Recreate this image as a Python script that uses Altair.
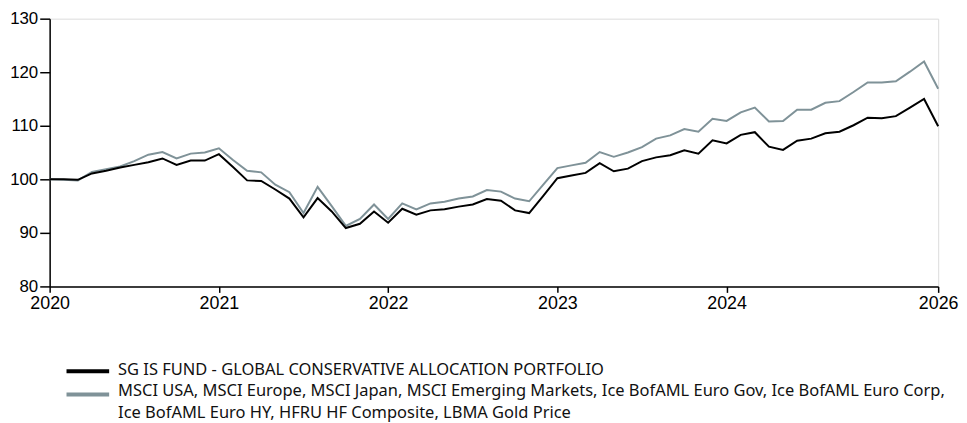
import altair as alt
import pandas as pd

fund = [100.0, 100.0, 99.9, 101.1, 101.6, 102.2, 102.7, 103.2, 103.9, 102.7, 103.5, 103.5,
        104.7, 102.3, 99.8, 99.7, 98.1, 96.4, 92.9, 96.5, 94.0, 90.9, 91.7, 94.0,
        91.9, 94.5, 93.4, 94.2, 94.4, 94.9, 95.3, 96.3, 96.0, 94.2, 93.7, 96.9,
        100.2, 100.7, 101.2, 103.0, 101.5, 102.0, 103.4, 104.1, 104.5, 105.4, 104.8, 107.3,
        106.7, 108.3, 108.8, 106.1, 105.5, 107.2, 107.6, 108.6, 108.9, 110.1, 111.5, 111.4,
        111.8, 113.4, 115.0, 109.9]
bench = [100.0, 99.9, 99.8, 101.4, 101.9, 102.4, 103.4, 104.6, 105.1, 103.9, 104.8, 105.0,
         105.8, 103.6, 101.6, 101.3, 99.0, 97.6, 93.7, 98.6, 95.0, 91.3, 92.6, 95.3,
         92.6, 95.5, 94.4, 95.5, 95.8, 96.4, 96.8, 98.0, 97.7, 96.4, 95.9, 99.0,
         102.1, 102.6, 103.1, 105.1, 104.2, 105.0, 106.0, 107.6, 108.2, 109.4, 108.9, 111.3,
         110.9, 112.5, 113.4, 110.8, 110.9, 113.0, 113.0, 114.3, 114.6, 116.3, 118.1, 118.1,
         118.3, 120.1, 122.0, 116.9]

series_names = [
    "SG IS FUND - GLOBAL CONSERVATIVE ALLOCATION PORTFOLIO",
    "MSCI USA, MSCI Europe, MSCI Japan, MSCI Emerging Markets, Ice BofAML Euro Gov, Ice BofAML Euro Corp,\nIce BofAML Euro HY, HFRU HF Composite, LBMA Gold Price",
]
series_colors = ["#000000", "#7f9298"]

tick_pos = [0, 12, 24, 36, 48, 63]
tick_labels = ["2020", "2021", "2022", "2023", "2024", "2026"]
y_ticks = [80, 90, 100, 110, 120, 130]

rows = []
for i, v in enumerate(bench):
    rows.append({"i": i, "v": v, "s": "b"})
for i, v in enumerate(fund):
    rows.append({"i": i, "v": v, "s": "a"})
df = pd.DataFrame(rows)

label_expr = " : ".join(
    [f"datum.value == {p} ? '{l}'" for p, l in zip(tick_pos, tick_labels)]
) + " : ''"

x = alt.X("i:Q", scale=alt.Scale(domain=[0, 63], nice=False, zero=False),
          axis=alt.Axis(values=tick_pos, labelExpr=label_expr, title=None, grid=False,
                        tickSize=6, tickWidth=1.5, domainWidth=1.5, domainColor="black",
                        tickColor="black", labelColor="black", labelFont="Liberation Sans",
                        labelFontSize=18, labelPadding=2, labelFlush=False))
y = alt.Y("v:Q", scale=alt.Scale(domain=[80, 130], nice=False, zero=False),
          axis=alt.Axis(values=y_ticks, title=None, grid=False, tickSize=10, tickWidth=1.5,
                        domainWidth=1.5, domainColor="black", tickColor="black",
                        labelColor="black", labelFont="Liberation Sans", labelFontSize=17,
                        labelPadding=2))

lines = alt.Chart(df).mark_line(strokeWidth=2).encode(
    x=x, y=y,
    color=alt.Color("s:N", scale=alt.Scale(domain=["a", "b"], range=series_colors), legend=None),
    order=alt.Order("i:Q"),
    detail="s:N",
)

leg_layers = []
sym_y = [355.5, 379]
txt_y = [359, 381]
for k in range(2):
    ldf = pd.DataFrame({"t": [series_names[k]]})
    leg_layers.append(
        alt.Chart(ldf).mark_rule(strokeWidth=4, color=series_colors[k]).encode(
            x=alt.value(17), x2=alt.value(60), y=alt.value(sym_y[k]))
    )
    leg_layers.append(
        alt.Chart(ldf).mark_text(align="left", baseline="alphabetic", lineBreak="\n",
                                 lineHeight=22, font="Noto Sans", fontSize=16.6, color="#111111").encode(
            x=alt.value(69), y=alt.value(txt_y[k]), text="t:N")
    )

chart = alt.layer(lines, *leg_layers).properties(
    width=896, height=270,
    autosize=alt.AutoSizeParams(type="none"),
    padding={"left": 42, "top": 9, "right": 21, "bottom": 140},
).configure_view(stroke=None).configure(background="white")

chart.save("out.html", embed_options={"renderer": "svg", "actions": False})
